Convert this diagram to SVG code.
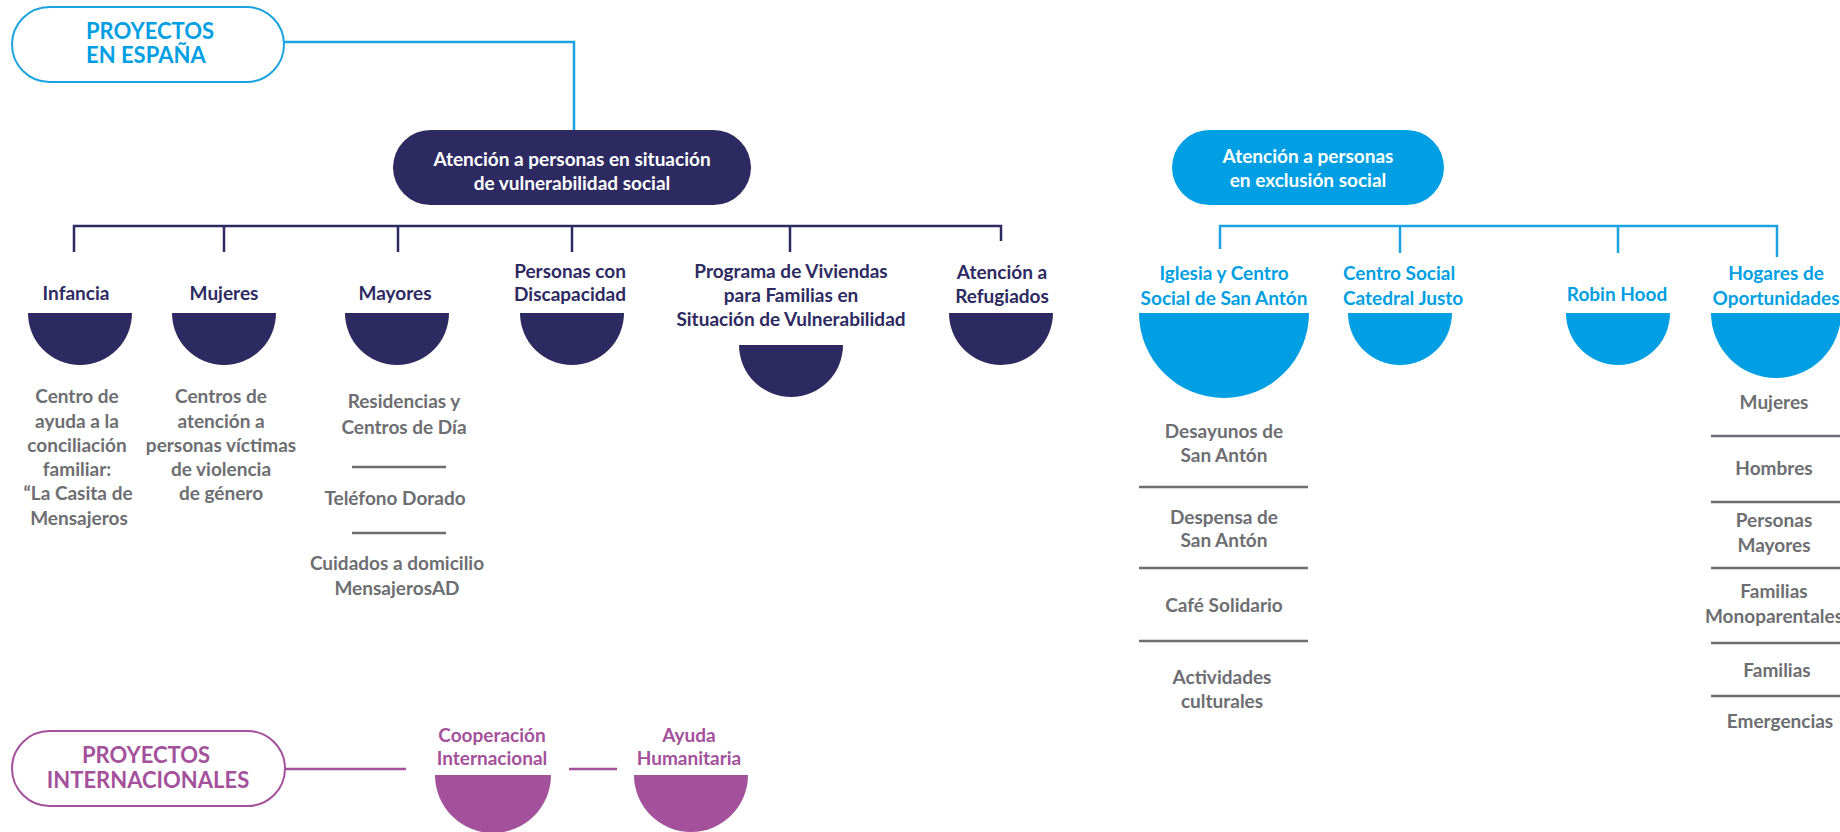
<svg xmlns="http://www.w3.org/2000/svg" width="1840" height="832" viewBox="0 0 1840 832">
<style>
text{font-family:Lato,"Open Sans","Liberation Sans",sans-serif;font-weight:bold;font-size:19px;text-anchor:middle}
.navy{fill:#2d2a62}
.cyan{fill:#009fe3}
.purp{fill:#a3519b}
.grey{fill:#6d6e71}
.white{fill:#ffffff}
.big{font-size:22px}
.ln-n{stroke:#2d2a62;stroke-width:2.5;fill:none}
.ln-c{stroke:#1aa3e0;stroke-width:2.5;fill:none}
.ln-p{stroke:#a3519b;stroke-width:2.5;fill:none}
.sep{stroke:#6d6e71;stroke-width:2.5}
</style>
<rect width="1840" height="832" fill="#ffffff"/>

<g id="connectors">
  <polyline class="ln-c" points="284,42 574,42 574,130"/>
  <polyline class="ln-n" points="74,252 74,226 1001,226 1001,241"/>
  <line class="ln-n" x1="224" y1="226" x2="224" y2="252"/>
  <line class="ln-n" x1="398" y1="226" x2="398" y2="252"/>
  <line class="ln-n" x1="572" y1="226" x2="572" y2="252"/>
  <line class="ln-n" x1="790" y1="226" x2="790" y2="252"/>
  <polyline class="ln-c" points="1220,249 1220,226 1777,226 1777,257"/>
  <line class="ln-c" x1="1400" y1="226" x2="1400" y2="253"/>
  <line class="ln-c" x1="1618" y1="226" x2="1618" y2="253"/>
  <line class="ln-p" x1="285" y1="769" x2="406" y2="769"/>
  <line class="ln-p" x1="569" y1="769" x2="617" y2="769"/>
</g>

<g id="proyectos-espana">
  <rect x="12" y="7" width="272" height="75" rx="37.5" fill="#ffffff" stroke="#1aa3e0" stroke-width="2"/>
  <text class="cyan big" x="86" y="39" style="text-anchor:start">PROYECTOS</text>
  <text class="cyan big" x="86" y="63" style="text-anchor:start">EN ESPAÑA</text>
</g>

<g id="vulnerabilidad">
  <rect x="393" y="130" width="358" height="75" rx="37.5" fill="#2d2a62"/>
  <text class="white" x="572" y="166">Atención a personas en situación</text>
  <text class="white" x="572" y="190">de vulnerabilidad social</text>
</g>

<g id="infancia">
  <text class="navy" x="76" y="300">Infancia</text>
  <path class="navy" d="M28,313 A52,52 0 0 0 132,313 Z"/>
  <text class="grey" x="77" y="403">Centro de</text>
  <text class="grey" x="77" y="428">ayuda a la</text>
  <text class="grey" x="77" y="452">conciliación</text>
  <text class="grey" x="77" y="476">familiar:</text>
  <text class="grey" x="78" y="500">“La Casita de</text>
  <text class="grey" x="79" y="525">Mensajeros</text>
</g>

<g id="mujeres">
  <text class="navy" x="224" y="300">Mujeres</text>
  <path class="navy" d="M172,313 A52,52 0 0 0 276,313 Z"/>
  <text class="grey" x="221" y="403">Centros de</text>
  <text class="grey" x="221" y="428">atención a</text>
  <text class="grey" x="221" y="452">personas víctimas</text>
  <text class="grey" x="221" y="476">de violencia</text>
  <text class="grey" x="221" y="500">de género</text>
</g>

<g id="mayores">
  <text class="navy" x="395" y="300">Mayores</text>
  <path class="navy" d="M345,313 A52,52 0 0 0 449,313 Z"/>
  <text class="grey" x="404" y="408">Residencias y</text>
  <text class="grey" x="404" y="434">Centros de Día</text>
  <line class="sep" x1="352" y1="467" x2="446" y2="467"/>
  <text class="grey" x="395" y="505">Teléfono Dorado</text>
  <line class="sep" x1="352" y1="533" x2="446" y2="533"/>
  <text class="grey" x="397" y="570">Cuidados a domicilio</text>
  <text class="grey" x="397" y="595">MensajerosAD</text>
</g>

<g id="discapacidad">
  <text class="navy" x="570" y="278">Personas con</text>
  <text class="navy" x="570" y="301">Discapacidad</text>
  <path class="navy" d="M520,313 A52,52 0 0 0 624,313 Z"/>
</g>

<g id="viviendas">
  <text class="navy" x="791" y="278">Programa de Viviendas</text>
  <text class="navy" x="791" y="302">para Familias en</text>
  <text class="navy" x="791" y="326">Situación de Vulnerabilidad</text>
  <path class="navy" d="M739,345 A52,52 0 0 0 843,345 Z"/>
</g>

<g id="refugiados">
  <text class="navy" x="1002" y="279">Atención a</text>
  <text class="navy" x="1002" y="303">Refugiados</text>
  <path class="navy" d="M949,313 A52,52 0 0 0 1053,313 Z"/>
</g>

<g id="exclusion">
  <rect x="1172" y="130" width="272" height="75" rx="37.5" fill="#009fe3"/>
  <text class="white" x="1308" y="163">Atención a personas</text>
  <text class="white" x="1308" y="187">en exclusión social</text>
</g>

<g id="san-anton">
  <text class="cyan" x="1224" y="280">Iglesia y Centro</text>
  <text class="cyan" x="1224" y="305">Social de San Antón</text>
  <path class="cyan" d="M1139,313 A85,85 0 0 0 1309,313 Z"/>
  <text class="grey" x="1224" y="438">Desayunos de</text>
  <text class="grey" x="1224" y="462">San Antón</text>
  <line class="sep" x1="1139" y1="487" x2="1308" y2="487"/>
  <text class="grey" x="1224" y="524">Despensa de</text>
  <text class="grey" x="1224" y="547">San Antón</text>
  <line class="sep" x1="1139" y1="568" x2="1308" y2="568"/>
  <text class="grey" x="1224" y="612">Café Solidario</text>
  <line class="sep" x1="1139" y1="641" x2="1308" y2="641"/>
  <text class="grey" x="1222" y="684">Actividades</text>
  <text class="grey" x="1222" y="708">culturales</text>
</g>

<g id="catedral-justo">
  <text class="cyan" x="1343" y="280" style="text-anchor:start">Centro Social</text>
  <text class="cyan" x="1343" y="305" style="text-anchor:start">Catedral Justo</text>
  <path class="cyan" d="M1348,313 A52,52 0 0 0 1452,313 Z"/>
</g>

<g id="robin-hood">
  <text class="cyan" x="1617" y="301">Robin Hood</text>
  <path class="cyan" d="M1566,313 A52,52 0 0 0 1670,313 Z"/>
</g>

<g id="hogares">
  <text class="cyan" x="1776" y="280">Hogares de</text>
  <text class="cyan" x="1776" y="305">Oportunidades</text>
  <path class="cyan" d="M1711,313 A65,65 0 0 0 1841,313 Z"/>
  <text class="grey" x="1774" y="409">Mujeres</text>
  <line class="sep" x1="1711" y1="436" x2="1840" y2="436"/>
  <text class="grey" x="1774" y="475">Hombres</text>
  <line class="sep" x1="1711" y1="502" x2="1840" y2="502"/>
  <text class="grey" x="1774" y="527">Personas</text>
  <text class="grey" x="1774" y="552">Mayores</text>
  <line class="sep" x1="1711" y1="568" x2="1840" y2="568"/>
  <text class="grey" x="1774" y="598">Familias</text>
  <text class="grey" x="1774" y="623">Monoparentales</text>
  <line class="sep" x1="1711" y1="643" x2="1840" y2="643"/>
  <text class="grey" x="1777" y="677">Familias</text>
  <line class="sep" x1="1711" y1="696" x2="1840" y2="696"/>
  <text class="grey" x="1780" y="728">Emergencias</text>
</g>

<g id="proyectos-internacionales">
  <rect x="12" y="731" width="273" height="75" rx="37.5" fill="#ffffff" stroke="#a3519b" stroke-width="2"/>
  <text class="purp big" x="146" y="763">PROYECTOS</text>
  <text class="purp big" x="148" y="788">INTERNACIONALES</text>
</g>

<g id="cooperacion">
  <text class="purp" x="492" y="742">Cooperación</text>
  <text class="purp" x="492" y="765">Internacional</text>
  <path class="purp" d="M435,775 A58,58 0 0 0 551,775 Z"/>
</g>

<g id="ayuda-humanitaria">
  <text class="purp" x="689" y="742">Ayuda</text>
  <text class="purp" x="689" y="765">Humanitaria</text>
  <path class="purp" d="M634,775 A57,57 0 0 0 748,775 Z"/>
</g>
</svg>
